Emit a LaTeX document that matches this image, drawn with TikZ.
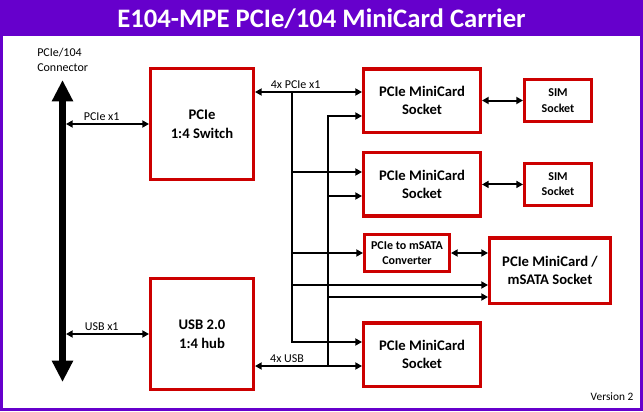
\documentclass[tikz,border=0pt]{standalone}
\usepackage{fontspec}
\setmainfont{Carlito}
\usetikzlibrary{arrows.meta, positioning}
\definecolor{cardred}{HTML}{CC0000}
\definecolor{mpepurple}{HTML}{6600CC}
\definecolor{mpedark}{HTML}{33005E}

\begin{document}
\begin{tikzpicture}[x=0.75pt, y=-0.75pt,
      box/.style={rectangle, draw=cardred, line width=2.6pt, fill=white, inner sep=0pt,
                  font=\bfseries\fontsize{11}{13}\selectfont, align=center},
      smallbox/.style={box, font=\bfseries\fontsize{9}{11.5}\selectfont},
      lbl/.style={font=\fontsize{9}{11.5}\selectfont, inner sep=2pt},
      arr/.style={-{Triangle[length=5pt,width=5.25pt]}, line width=1.5pt},
      dbl/.style={{Triangle[length=5pt,width=5.25pt]}-{Triangle[length=5pt,width=5.25pt]}, line width=1.5pt},
      bus/.style={{Triangle[length=16pt,width=15pt]}-{Triangle[length=16pt,width=15pt]}, line width=5.25pt}
    ]
      \useasboundingbox (0,0) rectangle (643,411);
      % title bar and frame
      \shade[top color=mpepurple, middle color=mpedark, bottom color=mpepurple] (0,0) rectangle (643,35);
      \draw[mpepurple, line width=2.25pt] (1.5,1.5) rectangle (641.5,409.5);
      \node[text=white, font=\bfseries\fontsize{20}{24}\selectfont] (title) at (321.5,19) {E104-MPE PCIe/104 MiniCard Carrier};

      % PCIe/104 connector
      \coordinate (bt) at (62.5,80);
      \coordinate (bb) at (62.5,382);
      \draw[bus] (bt) -- (bb);
      \node[lbl, align=left, anchor=north west, inner sep=0pt] (conn) at (37,48) {PCIe/104\\Connector};
      \coordinate (pb) at (66,124);
      \coordinate (ub) at (66,334);

      % boxes
      \node[box, minimum width=76.9pt, minimum height=82.9pt] (sw) at (202,124) {PCIe\\[1pt]1:4 Switch};
      \node[box, minimum width=76.9pt, minimum height=82.9pt] (hub) at (202,334) {USB 2.0\\[1pt]1:4 hub};
      \node[box, minimum width=87.4pt, minimum height=47.6pt] (s1) at (422,100.5) {PCIe MiniCard\\Socket};
      \node[box, minimum width=87.4pt, minimum height=47.6pt, below=12.75pt of s1] (s2) {PCIe MiniCard\\Socket};
      \node[smallbox, minimum width=63.4pt, minimum height=27.4pt] (conv) at (407,253) {PCIe to mSATA\\Converter};
      \node[box, minimum width=90.4pt, minimum height=49.1pt] (msata) at (550,270.5) {PCIe MiniCard /\\mSATA Socket};
      \node[box, minimum width=87.4pt, minimum height=47.6pt] (s4) at (422,354.5) {PCIe MiniCard\\Socket};
      \node[smallbox, minimum width=49.9pt, minimum height=31.2pt, right=30.75pt of s1] (sim1) {SIM\\Socket};
      \node[smallbox, minimum width=49.9pt, minimum height=31.2pt, right=30.75pt of s2] (sim2) {SIM\\Socket};

      % host links
      \draw[dbl] (pb) -- node[lbl, above, pos=0.43] {PCIe x1} (sw);
      \draw[dbl] (ub) -- node[lbl, above, pos=0.43] {USB x1} (hub);

      % fan-out to the sockets
      \coordinate (a1) at (292,92);
      \coordinate (a2) at (292,172);
      \coordinate (a3) at (292,253);
      \coordinate (a4) at (292,285);
      \coordinate (a5) at (292,342);
      \coordinate (b1) at (328,116);
      \coordinate (b2) at (328,196);
      \coordinate (b3) at (328,297);
      \coordinate (b4) at (328,366);

      \draw[dbl] (a1 -| sw.east) -- node[lbl, above, pos=0.38] {4x PCIe x1} (a1 -| s1.west);
      \draw[arr] (a1) -- (a5) -- (a5 -| s4.west);
      \draw[arr] (b4) -- (b1) -- (b1 -| s1.west);
      \draw[arr] (a2) -- (a2 -| s2.west);
      \draw[arr] (b2) -- (b2 -| s2.west);
      \draw[arr] (a3) -- (conv);
      \draw[arr] (a4) -- (a4 -| msata.west);
      \draw[arr] (b3) -- (b3 -| msata.west);
      \draw[dbl] (b4 -| hub.east) -- node[lbl, above, pos=0.3] {4x USB} (b4 -| s4.west);

      \draw[dbl] (conv) -- (conv -| msata.west);
      \draw[dbl] (s1) -- (sim1);
      \draw[dbl] (s2) -- (sim2);

      \node[lbl, font=\fontsize{8.5}{10}\selectfont] (ver) at (612,397) {Version 2};
    \end{tikzpicture}
\end{document}
